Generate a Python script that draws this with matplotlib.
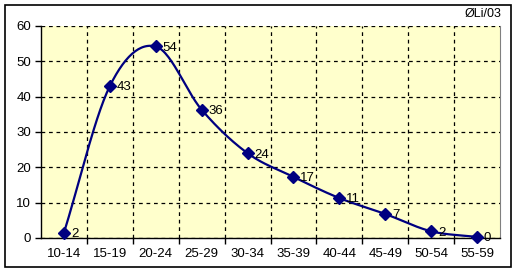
import numpy as np
import matplotlib
matplotlib.use("Agg")
import matplotlib.pyplot as plt
from matplotlib.patches import Rectangle

categories = ["10-14", "15-19", "20-24", "25-29", "30-34", "35-39", "40-44", "45-49", "50-54", "55-59"]
values = [1.5, 43.0, 54.2, 36.3, 24.0, 17.3, 11.3, 6.8, 1.9, 0.3]
labels = ["2", "43", "54", "36", "24", "17", "11", "7", "2", "0"]
yticks = [0, 10, 20, 30, 40, 50, 60]
corner_text = "ØLi/03"

W, H, DPI = 515, 273, 100
fig = plt.figure(figsize=(W / DPI, H / DPI), dpi=DPI)
fig.patch.set_facecolor("white")
fig.add_artist(Rectangle((5 / W, 1 - 267 / H), 506 / W, 262 / H, transform=fig.transFigure,
                         fill=False, edgecolor="black", linewidth=1.2))

ax = fig.add_axes([41 / W, 1 - 238 / H, 459 / W, 212 / H])
ax.set_facecolor("#FFFFCC")
n = len(categories)
ax.set_xlim(0, n)
ax.set_ylim(0, 60)

# Catmull-Rom smoothing of data points (like Excel smoothed line)
x = np.arange(n) + 0.5
y = np.array(values)
px = np.concatenate([[2 * x[0] - x[1]], x, [2 * x[-1] - x[-2]]])
py = np.concatenate([[2 * y[0] - y[1]], y, [2 * y[-1] - y[-2]]])
sx, sy = [], []
t = np.linspace(0, 1, 30)
for i in range(1, len(px) - 2):
    p0, p1, p2, p3 = [np.array([px[j], py[j]]) for j in range(i - 1, i + 3)]
    m1 = (p2 - p0) / 2
    m2 = (p3 - p1) / 2
    h00 = 2 * t**3 - 3 * t**2 + 1
    h10 = t**3 - 2 * t**2 + t
    h01 = -2 * t**3 + 3 * t**2
    h11 = t**3 - t**2
    pts = np.outer(h00, p1) + np.outer(h10, m1) + np.outer(h01, p2) + np.outer(h11, m2)
    sx.extend(pts[:, 0]); sy.extend(pts[:, 1])
ax.plot(sx, sy, color="#000080", linewidth=1.6, zorder=3, clip_on=False)
ax.plot(x, y, linestyle="none", marker="D", markersize=6.5, color="#000080", zorder=4, clip_on=False)

for xi, yi, lab in zip(x, y, labels):
    ax.annotate(lab, (xi, yi), xytext=(5, -1), textcoords="offset points",
                ha="left", va="center", fontsize=9.5, family="Liberation Sans", zorder=5)

ax.set_yticks(yticks)
ax.set_xticks(np.arange(1, n))
ax.set_xticks(x, minor=True)
ax.set_xticklabels([])
ax.set_xticklabels(categories, minor=True)
ax.tick_params(axis="x", which="major", direction="out", length=4, width=1, color="black")
ax.tick_params(axis="x", which="minor", length=0, pad=7, labelsize=9.5)
ax.tick_params(axis="y", direction="out", length=4, width=1, labelsize=9.5, pad=3)
for lab in ax.get_xticklabels(minor=True) + ax.get_yticklabels():
    lab.set_family("Liberation Sans")
ax.grid(True, which="major", color="black", linestyle=(0, (3, 3)), linewidth=0.9)
ax.set_axisbelow(True)

ax.spines["top"].set_visible(False)
ax.spines["right"].set_color("#808080")
ax.spines["left"].set_linewidth(1)
ax.spines["bottom"].set_linewidth(1)

fig.text(501 / W, 1 - 14 / H, corner_text, ha="right", va="center", fontsize=9, family="Liberation Sans")

fig.savefig("out.png", dpi=DPI)
